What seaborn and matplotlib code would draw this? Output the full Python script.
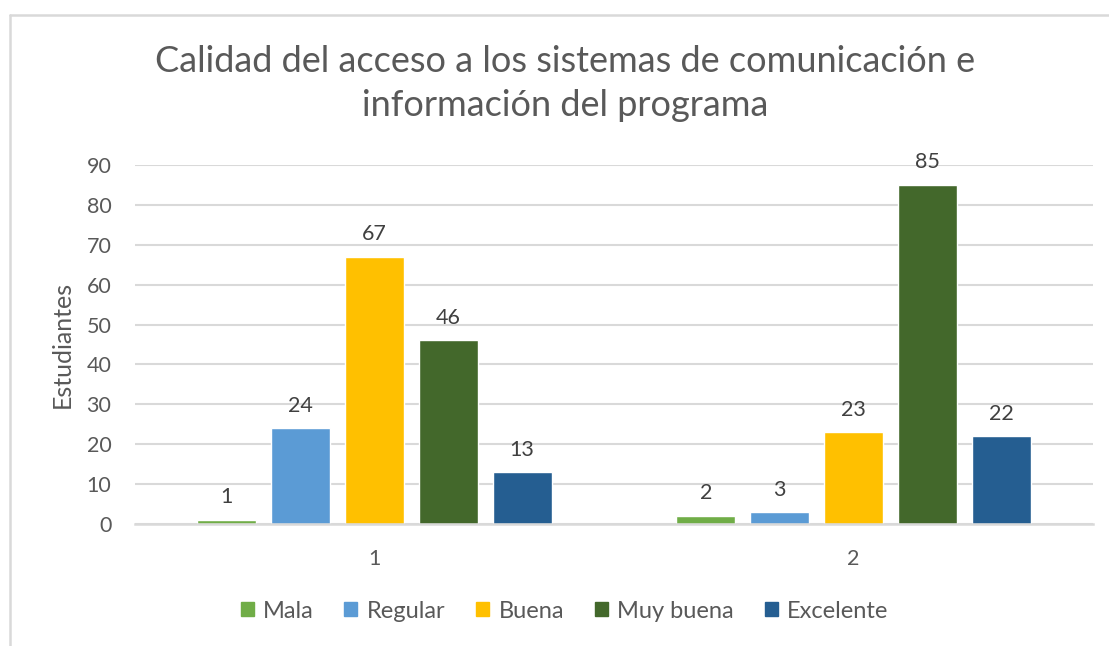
import matplotlib.pyplot as plt
import matplotlib.lines as mlines
import pandas as pd
import seaborn as sns

# Data
groups = ["1", "2"]
niveles = ["Mala", "Regular", "Buena", "Muy buena", "Excelente"]
mala = [1, 2]
regular = [24, 3]
buena = [67, 23]
muy_buena = [46, 85]
excelente = [13, 22]

colores = ["#70AD47", "#5B9BD5", "#FFC000", "#43682B", "#255E91"]
gris = "#595959"

sns.set_theme(style="white")
plt.rcParams["font.family"] = ["Lato", "DejaVu Sans"]

rows = []
for nivel, vals in zip(niveles, [mala, regular, buena, muy_buena, excelente]):
    for g, v in zip(groups, vals):
        rows.append({"grupo": g, "nivel": nivel, "estudiantes": v})
df = pd.DataFrame(rows)

fig = plt.figure(figsize=(11.09, 6.46), dpi=100)
ax = fig.add_axes([0.1217, 0.1889, 0.8639, 0.5557])

sns.barplot(
    data=df,
    x="grupo",
    y="estudiantes",
    hue="nivel",
    hue_order=niveles,
    order=groups,
    palette=colores,
    width=0.77,
    gap=0.2,
    saturation=1,
    ax=ax,
    legend=True,
)

for cont in ax.containers:
    ax.bar_label(cont, padding=9, fontsize=15.5, color="#404040")

ax.set_ylim(0, 90)
ax.set_xlim(-0.5, 1.5)
ax.set_yticks(range(0, 91, 10))
ax.yaxis.grid(True, color="#d9d9d9", lw=1.5)
ax.set_axisbelow(True)
for s in ["top", "right", "left"]:
    ax.spines[s].set_visible(False)
ax.spines["bottom"].set_color("#d9d9d9")
ax.spines["bottom"].set_linewidth(1.8)
ax.tick_params(axis="both", length=0, labelsize=15.5, labelcolor=gris)
ax.tick_params(axis="y", pad=17)
ax.tick_params(axis="x", pad=18)
ax.set_xlabel("")
ax.set_ylabel("Estudiantes", fontsize=18, color=gris, labelpad=9)

ax.legend_.remove()
handles = [plt.Rectangle((0, 0), 1, 1, color=c) for c in colores]
fig.legend(
    handles,
    niveles,
    loc="center",
    bbox_to_anchor=(0.509, 0.054),
    ncol=5,
    frameon=False,
    fontsize=17,
    labelcolor=gris,
    handlelength=0.55,
    handleheight=0.55,
    handletextpad=0.4,
    columnspacing=1.3,
)

fig.text(
    0.5095,
    0.871,
    "Calidad del acceso a los sistemas de comunicación e\ninformación del programa",
    ha="center",
    va="center",
    fontsize=26,
    color=gris,
    linespacing=1.4,
)

# Light border of the chart area (top and left edges)
bx, by = 9.5 / 1109, 1 - 14.5 / 646
fig.add_artist(mlines.Line2D([bx, 1], [by, by], color="#d9d9d9", lw=1.8, transform=fig.transFigure))
fig.add_artist(mlines.Line2D([bx, bx], [0, by], color="#d9d9d9", lw=1.8, transform=fig.transFigure))

fig.savefig("out.png", dpi=100)
